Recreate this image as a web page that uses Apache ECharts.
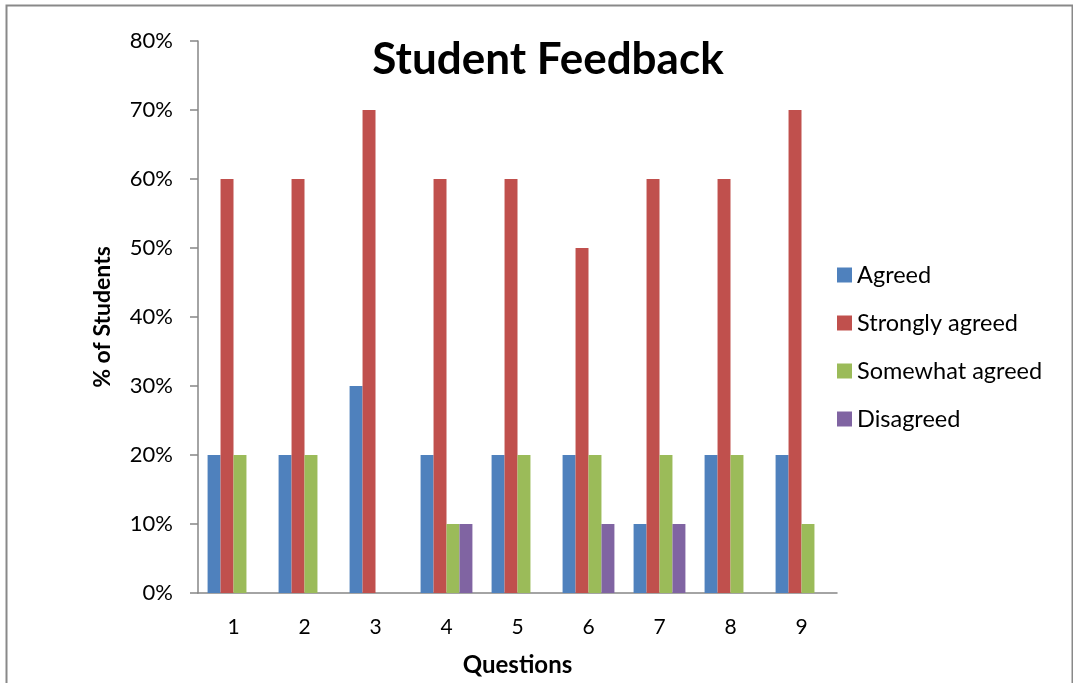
<!DOCTYPE html>
<html>
<head>
<meta charset="utf-8">
<script src="https://cdn.jsdelivr.net/npm/echarts@6/dist/echarts.min.js"></script>
<style>html,body{margin:0;padding:0;background:#fff;}#c{width:1073px;height:683px;}</style>
</head>
<body>
<div id="c"></div>
<script>
const categories = ['1','2','3','4','5','6','7','8','9'];
const agreed = [20,20,30,20,20,20,10,20,20];
const stronglyAgreed = [60,60,70,60,60,50,60,60,70];
const somewhatAgreed = [20,20,0,10,20,20,20,20,10];
const disagreed = [0,0,0,10,0,10,10,0,0];
const yTicks = [0,10,20,30,40,50,60,70,80];

const FONT = 'Lato';
const axisColor = '#868686';
const chart = echarts.init(document.getElementById('c'));
const mk = (name, data, color) => ({
  name, type: 'bar', data, barGap: 0, barCategoryGap: '27%',
  itemStyle: {color},
  emphasis: {disabled: true}
});
chart.setOption({
  animation: false,
  textStyle: {fontFamily: FONT},
  title: {
    text: 'Student Feedback', left: 543, top: 33, textAlign: 'center',
    textStyle: {fontFamily: FONT, fontSize: 44, fontWeight: 'bold', color: '#000'}
  },
  legend: {
    orient: 'vertical', left: 837, top: 263, padding: 0, itemWidth: 15, itemHeight: 15, itemGap: 24,
    icon: 'rect',
    textStyle: {fontFamily: FONT, fontSize: 23.5, lineHeight: 24, color: '#000'}
  },
  grid: {left: 198, right: 236, top: 41, bottom: 90},
  xAxis: {
    type: 'category', data: categories,
    name: 'Questions', nameLocation: 'middle', nameGap: 60,
    nameTextStyle: {fontFamily: FONT, fontSize: 24, fontWeight: 'bold', color: '#000'},
    axisLine: {lineStyle: {color: axisColor, width: 1.5}},
    axisTick: {length: 8, lineStyle: {color: axisColor, width: 1.5}},
    axisLabel: {fontFamily: FONT, fontSize: 21, color: '#000', margin: 24}
  },
  yAxis: {
    type: 'value', min: 0, max: 80, interval: 10,
    name: '% of Students', nameLocation: 'middle', nameGap: 84,
    nameTextStyle: {fontFamily: FONT, fontSize: 23, fontWeight: 'bold', color: '#000'},
    axisLine: {show: true, lineStyle: {color: axisColor, width: 1.5}},
    axisTick: {show: true, length: 8, lineStyle: {color: axisColor, width: 1.5}},
    splitLine: {show: false},
    axisLabel: {fontFamily: FONT, fontSize: 22, color: '#000', margin: 25,
      formatter: v => yTicks.includes(v) ? v + '%' : ''}
  },
  graphic: [{
    type: 'rect', shape: {x: 6.5, y: 5.5, width: 1066, height: 700},
    style: {fill: 'none', stroke: '#898989', lineWidth: 2}, silent: true
  }],
  series: [
    mk('Agreed', agreed, '#4F81BD'),
    mk('Strongly agreed', stronglyAgreed, '#C0504D'),
    mk('Somewhat agreed', somewhatAgreed, '#9BBB59'),
    mk('Disagreed', disagreed, '#8064A2')
  ]
});
</script>
</body>
</html>
